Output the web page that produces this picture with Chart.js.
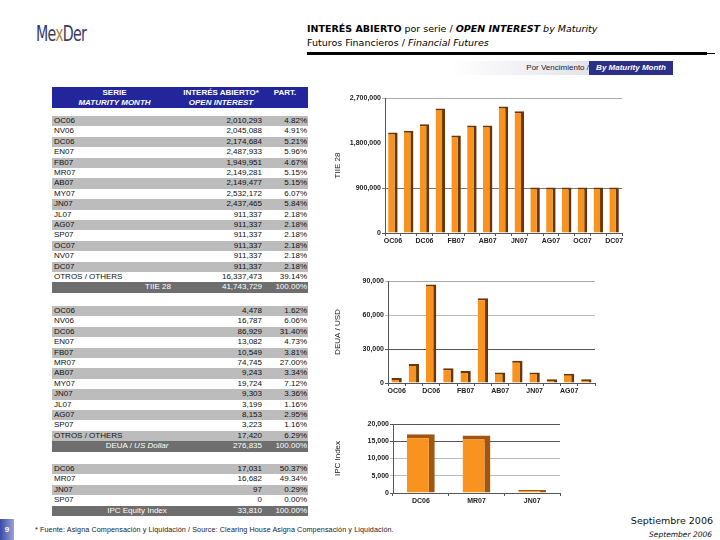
<!DOCTYPE html>
<html>
<head>
<meta charset="utf-8">
<script src="https://cdn.jsdelivr.net/npm/chart.js@4.4.1/dist/chart.umd.min.js"></script>
<style>
  body { margin: 0; width: 720px; height: 540px; position: relative; background: #fff; overflow: hidden;
         font-family: "Liberation Sans", Arial, sans-serif; }
  .abs { position: absolute; }
  #logo { left: 36px; top: 22px; font-family: "DejaVu Sans Condensed", "Liberation Sans Narrow", sans-serif;
          font-size: 21px; color: #343a66; letter-spacing: -1px; transform: scaleX(0.75); transform-origin: left; }
  #logo span { color: #b08a3a; }
  #title { left: 307px; top: 22px; font-family: "DejaVu Sans", Verdana, sans-serif; font-size: 9.5px; line-height: 14px; color: #000; }
  #rule { left: 307px; top: 52px; width: 400px; height: 3px; background: #000; }
  #rule2 { left: 700px; top: 53px; width: 15px; height: 1px; background: #000; }
  #banner { left: 450px; top: 61px; width: 223px; height: 14px;
            background: linear-gradient(to right, #fff 0%, #e4e4ec 60%, #d0d2e0 100%); }
  #banner .a { position: absolute; right: 84px; top: 2px; font-size: 8px; color: #222; }
  #banner .b { position: absolute; right: 0; top: 0; width: 84px; height: 14px; background: #2c2f8a;
               color: #fff; font-size: 8px; font-weight: bold; font-style: italic; line-height: 14px; text-align: center; }
  #thead { left: 52px; top: 87px; width: 256px; height: 21px; background: #23269a; color: #fff;
           font-size: 8px; font-weight: bold; line-height: 10px; }
  #thead div { position: absolute; top: 1px; text-align: center; }
  .row { position: absolute; left: 52px; width: 256px; height: 10.4px; font-size: 8px; line-height: 10.4px; color: #111; }
  .row.g { background: #bcbcbc; }
  .row.t { background: #6e6e6e; color: #fff; }
  .row span { position: absolute; top: 0; white-space: nowrap; }
  .c1 { left: 2px; }
  .c2 { right: 46px; }
  .c3 { right: 1px; }
  .ct { left: 0; width: 170px; text-align: center; }
  canvas { position: absolute; }
  #page { left: 0; top: 519px; width: 14px; height: 21px; background: linear-gradient(to right, #3b4aa8, #9aa3d6);
          color: #fff; font-size: 8px; font-weight: bold; line-height: 21px; text-align: center; }
  #note { left: 35px; top: 525px; font-size: 7.2px; color: #222; letter-spacing: 0.1px; }
  #date1 { right: 7px; top: 515px; font-family: "DejaVu Sans", Verdana, sans-serif; font-size: 9.5px; color: #111; }
  #date2 { right: 8px; top: 530px; font-family: "DejaVu Sans", Verdana, sans-serif; font-size: 7.5px; font-style: italic; color: #111; }
</style>
</head>
<body>
<div id="logo" class="abs">Me<span>x</span>Der</div>
<div id="title" class="abs"><b>INTERÉS ABIERTO</b> por serie / <b><i>OPEN INTEREST</i></b> <i>by Maturity</i><br>Futuros Financieros / <i>Financial Futures</i></div>
<div id="rule" class="abs"></div>
<div id="rule2" class="abs"></div>
<div id="banner" class="abs"><span class="a">Por Vencimiento /</span><span class="b">By Maturity Month</span></div>
<div id="thead" class="abs">
  <div style="left:0;width:125px">SERIE<br><i>MATURITY MONTH</i></div>
  <div style="left:128px;width:82px">INTERÉS ABIERTO*<br><i>OPEN INTEREST</i></div>
  <div style="left:218px;width:30px">PART.</div>
</div>
<div id="table"></div>

<canvas id="tiieChart" width="300" height="164" style="left:333px;top:86px"></canvas>
<canvas id="deuaChart" width="270" height="128" style="left:333px;top:270px"></canvas>
<canvas id="ipcChart" width="240" height="94" style="left:333px;top:412px"></canvas>

<div id="page" class="abs">9</div>
<div id="note" class="abs">* Fuente: Asigna Compensación y Liquidación / Source: Clearing House Asigna Compensación y Liquidación.</div>
<div id="date1" class="abs">Septiembre 2006</div>
<div id="date2" class="abs">September 2006</div>

<script>
// TIIE 28
const tiieSeries = ["OC06", "NV06", "DC06", "EN07", "FB07", "MR07", "AB07", "MY07", "JN07", "JL07", "AG07", "SP07", "OC07", "NV07", "DC07"];
const tiieOI = [2010293, 2045088, 2174684, 2487933, 1949951, 2149281, 2149477, 2532172, 2437465, 911337, 911337, 911337, 911337, 911337, 911337];
const tiiePart = ["4.82%", "4.91%", "5.21%", "5.96%", "4.67%", "5.15%", "5.15%", "6.07%", "5.84%", "2.18%", "2.18%", "2.18%", "2.18%", "2.18%", "2.18%"];
const tiieOthers = [16337473, "39.14%"];
const tiieTotal = [41743729, "100.00%"];
const tiieTicks = [0, 900000, 1800000, 2700000];

// DEUA / US Dollar
const deuaSeries = ["OC06", "NV06", "DC06", "EN07", "FB07", "MR07", "AB07", "MY07", "JN07", "JL07", "AG07", "SP07"];
const deuaOI = [4478, 16787, 86929, 13082, 10549, 74745, 9243, 19724, 9303, 3199, 8153, 3223];
const deuaPart = ["1.62%", "6.06%", "31.40%", "4.73%", "3.81%", "27.00%", "3.34%", "7.12%", "3.36%", "1.16%", "2.95%", "1.16%"];
const deuaOthers = [17420, "6.29%"];
const deuaTotal = [276835, "100.00%"];
const deuaTicks = [0, 30000, 60000, 90000];

// IPC Equity Index
const ipcSeries = ["DC06", "MR07", "JN07", "SP07"];
const ipcOI = [17031, 16682, 97, 0];
const ipcPart = ["50.37%", "49.34%", "0.29%", "0.00%"];
const ipcTotal = [33810, "100.00%"];
const ipcChartSeries = ["DC06", "MR07", "JN07"];
const ipcChartOI = [17031, 16682, 97];
const ipcTicks = [0, 5000, 10000, 15000, 20000];

const fmt = n => n.toLocaleString("en-US");
const table = document.getElementById("table");

function addRow(top, cls, cells) {
  const r = document.createElement("div");
  r.className = "row " + cls;
  r.style.top = top + "px";
  r.innerHTML = cells;
  table.appendChild(r);
}

function section(top, series, oi, part, others, totalLabel, total) {
  const rows = series.map((s, i) => [s, oi[i], part[i]]);
  if (others) rows.push(["OTROS / OTHERS", others[0], others[1]]);
  rows.forEach((r, i) => {
    addRow(top + i * 10.4, i % 2 === 0 ? "g" : "",
      `<span class="c1">${r[0]}</span><span class="c2">${fmt(r[1])}</span><span class="c3">${r[2]}</span>`);
  });
  addRow(top + rows.length * 10.4, "t",
    `<span class="ct">${totalLabel}</span><span class="c2">${fmt(total[0])}</span><span class="c3">${total[1]}</span>`);
}

section(116, tiieSeries, tiieOI, tiiePart, tiieOthers, '<span style="position:relative;left:21px">TIIE 28</span>', tiieTotal);
section(306, deuaSeries, deuaOI, deuaPart, deuaOthers, "DEUA / <i>US Dollar</i>", deuaTotal);
section(464, ipcSeries, ipcOI, ipcPart, null, "IPC Equity Index", ipcTotal);

// Charts
const orange = "#f7931e";
const brown = "#6b3606";
const tickFont = { family: "Liberation Sans", size: 7, weight: "bold" };

function barChart(id, labels, values, ticks, opt) {
  new Chart(document.getElementById(id), {
    type: "bar",
    data: {
      labels: labels,
      datasets: [{
        data: values,
        backgroundColor: orange,
        borderColor: opt.side || brown,
        borderWidth: opt.border,
        borderSkipped: false,
        barPercentage: opt.barPct,
        categoryPercentage: 1,
        minBarLength: opt.minLen || 0
      }]
    },
    options: {
      responsive: false,
      animation: false,
      layout: { padding: { top: opt.padTop, right: opt.padRight, left: 0, bottom: 0 } },
      plugins: { legend: { display: false }, tooltip: { enabled: false } },
      scales: {
        x: {
          afterFit: s => { s.height = opt.xHeight; },
          grid: { drawOnChartArea: false, tickLength: 3, color: "#555", offset: true },
          border: { color: "#555" },
          ticks: {
            autoSkip: false, maxRotation: 0, padding: 1, color: "#222", font: tickFont,
            callback: (v, i) => (i % opt.every === 0 ? labels[i] : "")
          }
        },
        y: {
          min: 0,
          max: ticks[ticks.length - 1],
          afterFit: s => { s.width = opt.yWidth; },
          afterBuildTicks: s => { s.ticks = ticks.map(v => ({ value: v })); },
          grid: { color: c => opt.gridColors[c.index] || "transparent", tickLength: 3 },
          border: { color: "#555" },
          title: { display: true, text: opt.title, color: "#222", font: { family: "Liberation Sans", size: 8 }, padding: { top: 0, bottom: 2 } },
          ticks: { padding: 1, color: "#222", font: tickFont, callback: v => fmt(v) }
        }
      }
    }
  });
}

barChart("tiieChart", tiieSeries, tiieOI, tiieTicks, {
  title: "TIIE 28", yWidth: 52, xHeight: 17, padTop: 12, padRight: 11, every: 2, barPct: 0.6,
  border: { top: 2, right: 3, left: 0, bottom: 0 },
  gridColors: ["#555", "#777", "transparent", "#aaa"]
});
barChart("deuaChart", deuaSeries, deuaOI, deuaTicks, {
  title: "DEUA / USD", yWidth: 55, xHeight: 15, padTop: 11, padRight: 8, every: 2, barPct: 0.6,
  border: { top: 2, right: 3, left: 0, bottom: 0 },
  gridColors: ["#555", "#555", "#bbb", "#aaa"]
});
barChart("ipcChart", ipcChartSeries, ipcChartOI, ipcTicks, {
  title: "IPC Index", yWidth: 60, xHeight: 13, padTop: 12, padRight: 13, every: 1, barPct: 0.5,
  side: "#a2560f", minLen: 3,
  border: { top: 4, right: 6, left: 0, bottom: 0 },
  gridColors: ["#555", "#bbb", "#bbb", "#555", "#555"]
});
</script>
</body>
</html>
